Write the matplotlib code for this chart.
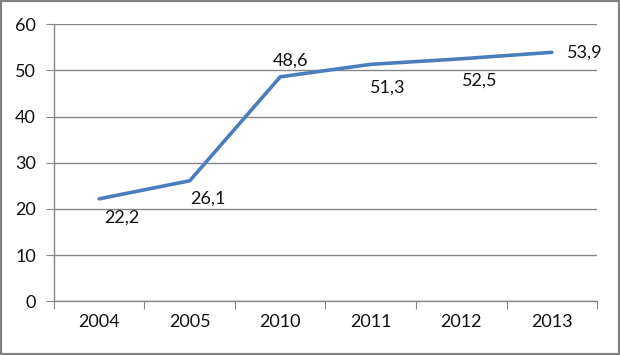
import numpy as np
import matplotlib.pyplot as plt
from matplotlib.patches import Rectangle

years = ['2004', '2005', '2010', '2011', '2012', '2013']
values = [22.2, 26.1, 48.6, 51.3, 52.5, 53.9]
# label offsets in pixels (dx, dy), as placed in the original
label_offsets = [(23, -19), (18, -18), (10, 16), (17, -23), (18, -22), (33, 0)]

plt.rcParams['font.family'] = ['Lato', 'DejaVu Sans']
gray = '#868686'
fs = 13

fig = plt.figure(figsize=(6.2, 3.55), dpi=100)
ax = fig.add_axes([0.087, 0.151, 0.876, 0.781])

x = np.arange(len(years))
ax.plot(x, values, color='#4A7EBB', linewidth=2.6, solid_capstyle='round')

for xi, v, (dx, dy) in zip(x, values, label_offsets):
    ax.annotate(f'{v:.1f}'.replace('.', ','), (xi, v), xytext=(dx, dy),
                textcoords='offset pixels', ha='center', va='center',
                fontsize=fs, color='#111111')

ax.set_xlim(-0.5, len(years) - 0.5)
ax.set_ylim(0, 60)
ax.set_yticks(range(0, 61, 10))
ax.set_xticks(np.arange(len(years) + 1) - 0.5, minor=False)
ax.set_xticklabels([''] * (len(years) + 1))
ax.set_xticks(x, minor=True)
ax.set_xticklabels(years, minor=True)
ax.tick_params(axis='x', which='minor', length=0, pad=9, labelsize=fs, labelcolor='#111111')
ax.tick_params(axis='x', which='major', length=6, color=gray)
ax.tick_params(axis='y', length=6, color=gray, labelsize=fs, pad=7, labelcolor='#111111')

ax.grid(axis='y', color=gray, linewidth=1)
ax.set_axisbelow(True)
for s in ['top', 'right']:
    ax.spines[s].set_visible(False)
for s in ['left', 'bottom']:
    ax.spines[s].set_color(gray)
    ax.spines[s].set_linewidth(1)

fig.patches.append(Rectangle((0, 0), 1, 1, transform=fig.transFigure,
                             fill=False, edgecolor='#808080', linewidth=3))

fig.savefig('out.png', dpi=100)
